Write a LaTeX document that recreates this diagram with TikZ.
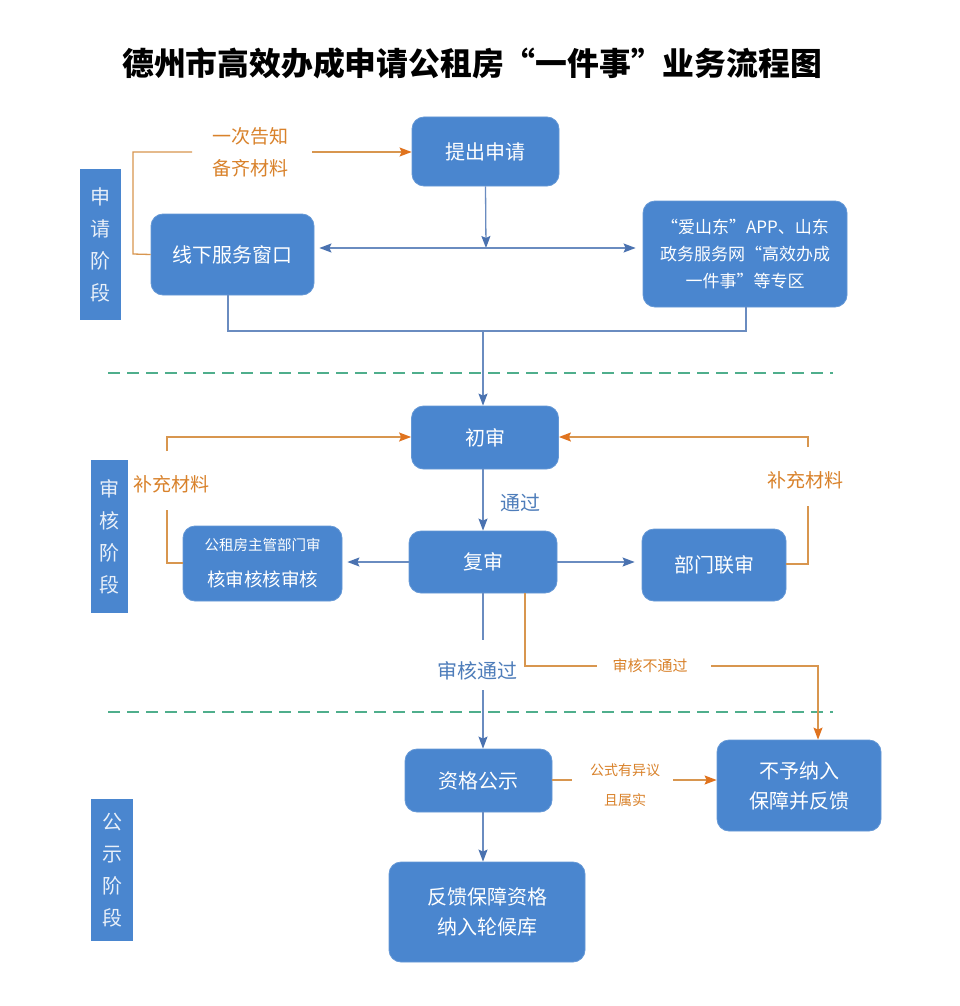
\documentclass[tikz,border=0pt]{standalone}
\usepackage{fontspec}
\setmainfont{Noto Sans CJK SC}
\usetikzlibrary{arrows.meta,calc}
\definecolor{boxblue}{HTML}{4A86CF}
\definecolor{lineblue}{HTML}{6A8CC0}
\definecolor{headblue}{HTML}{4A72B0}
\definecolor{lineorange}{HTML}{D8964F}
\definecolor{headorange}{HTML}{E0731E}
\definecolor{textorange}{HTML}{D9822B}
\definecolor{textblue}{HTML}{4E7DBA}
\definecolor{dashgreen}{HTML}{4FAE8C}
\begin{document}
\begin{tikzpicture}[x=1pt,y=-1pt,
  box/.style={fill=boxblue,draw=boxblue!85!white,line width=0.8pt,rounded corners=12pt,text=white,
    align=center,inner sep=0pt,font=\fontsize{20}{30}\selectfont},
  stagebox/.style={fill=boxblue,text=white!88!boxblue,align=center,inner sep=0pt,
    font=\fontsize{20}{32}\selectfont},
  bline/.style={draw=lineblue,line width=1.3pt},
  barrow/.style={bline,-{Stealth[length=12pt,width=9pt,inset=2pt,color=headblue]}},
  bdarrow/.style={bline,{Stealth[length=12pt,width=9pt,inset=2pt,color=headblue]}-{Stealth[length=12pt,width=9pt,inset=2pt,color=headblue]}},
  oline/.style={draw=lineorange,line width=1.3pt},
  oarrow/.style={oline,-{Stealth[length=12pt,width=9pt,inset=2pt,color=headorange]}},
  olabel/.style={text=textorange,align=center,inner sep=0pt},
  blabel/.style={text=textblue,align=center,inner sep=0pt,font=\fontsize{20}{24}\selectfont},
  dashline/.style={draw=dashgreen,line width=2pt,dash pattern=on 12pt off 7pt}
]
\useasboundingbox[fill=white] (0,0) rectangle (960,1006);

% title
\node[font=\fontsize{31.8}{36}\selectfont\bfseries] (title) at (472,63) {德州市高效办成申请公租房“一件事”业务流程图};

% stage labels
\node[stagebox,minimum width=41pt,minimum height=151pt] (s1) at (100.5,244.5) {申\\请\\阶\\段};
\node[stagebox,minimum width=37pt,minimum height=153pt] (s2) at (109.5,536.5) {审\\核\\阶\\段};
\node[stagebox,minimum width=42pt,minimum height=142pt] (s3) at (112,870) {公\\示\\阶\\段};

% boxes
\node[box,minimum width=147pt,minimum height=69pt] (tichu) at (485.5,151.5) {提出申请};
\node[box,minimum width=163pt,minimum height=81pt] (xianxia) at (232.5,254.5) {线下服务窗口};
\node[box,minimum width=204pt,minimum height=106pt,font=\fontsize{17}{27}\selectfont] (aisd) at (745,254) {“爱山东”APP、山东\\政务服务网“高效办成\\一件事”等专区};
\node[box,minimum width=147pt,minimum height=63pt] (chushen) at (485,437.5) {初审};
\node[box,minimum width=148pt,minimum height=62pt] (fushen) at (483,562) {复审};
\node[box,minimum width=159pt,minimum height=75pt] (gongzu) at (262.5,563.5) {{\fontsize{14.5}{18}\selectfont 公租房主管部门审}\\[6pt]{\fontsize{18.5}{20}\selectfont 核审核核审核}};
\node[box,minimum width=144pt,minimum height=72pt] (lianshen) at (714,565) {部门联审};
\node[box,minimum width=147pt,minimum height=63pt] (gongshi) at (478.5,780.5) {资格公示};
\node[box,minimum width=164pt,minimum height=91pt] (buyu) at (799,785.5) {不予纳入\\保障并反馈};
\node[box,minimum width=196pt,minimum height=100pt] (fankui) at (487,912) {反馈保障资格\\纳入轮候库};

% dashed separators
\coordinate (d1a) at (108,373); \coordinate (d1b) at (833,373);
\coordinate (d2a) at (108,712); \coordinate (d2b) at (833,712);
\draw[dashline] (d1a) -- (d1b);
\draw[dashline] (d2a) -- (d2b);

% labels
\node[olabel,font=\fontsize{19}{32}\selectfont] (l1) at (250,152) {一次告知\\备齐材料};
\node[olabel,font=\fontsize{19}{22}\selectfont] (l2) at (171,484) {补充材料};
\node[olabel,font=\fontsize{19}{22}\selectfont] (l3) at (805,480) {补充材料};
\node[olabel,font=\fontsize{15}{18}\selectfont] (l4) at (650,666) {审核不通过};
\node[olabel,font=\fontsize{14}{30}\selectfont] (l5) at (625,785) {公式有异议\\且属实};
\node[blabel] (l6) at (520,503) {通过};
\node[blabel] (l7) at (477,671) {审核通过};

% apply stage connectors
\coordinate (hmid) at (486,248);
\draw[barrow] (tichu.south) -- (hmid);
\draw[bdarrow,shorten <=5pt,shorten >=7pt] (xianxia.east |- hmid) -- (aisd.west |- hmid);
\coordinate (merge) at (483,331);
\draw[bline] (228,295) coordinate (xs) -- (xs |- merge) -- (merge);
\draw[bline] (746,307) coordinate (as) -- (as |- merge) -- (merge);
\draw[barrow] (merge) -- (merge |- chushen.north);

% top orange loop
\coordinate (o1a) at (133,254); \coordinate (o1b) at (133,152);
\coordinate (o1c) at (192,152); \coordinate (o1d) at (312,152);
\draw[oline] (xianxia.west) -- (o1a) -- (o1b) -- (o1c);
\draw[oarrow] (o1d) -- (tichu.west |- o1d);

% review stage
\draw[barrow] (chushen.south -| 483,0) -- (fushen.north);
\draw[barrow,shorten >=5pt] (fushen.west) -- (fushen.west -| gongzu.east);
\draw[barrow,shorten >=7pt] (fushen.east) -- (fushen.east -| lianshen.west);
\coordinate (p1) at (483,640); \coordinate (p2) at (483,690);
\draw[bline] (fushen.south) -- (p1);
\draw[barrow] (p2) -- (p2 |- gongshi.north);

% left supplement loop
\coordinate (lA) at (167,563); \coordinate (lB) at (167,510);
\coordinate (lC) at (167,451); \coordinate (lD) at (167,437);
\draw[oline] (gongzu.west |- lA) -- (lA) -- (lB);
\draw[oarrow] (lC) -- (lD) -- (chushen.west |- lD);

% right supplement loop
\coordinate (rA) at (808,564); \coordinate (rB) at (808,506);
\coordinate (rC) at (808,447); \coordinate (rD) at (808,437);
\draw[oline] (lianshen.east |- rA) -- (rA) -- (rB);
\draw[oarrow] (rC) -- (rD) -- (chushen.east |- rD);

% not passed
\coordinate (nA) at (525,593); \coordinate (nB) at (525,666);
\coordinate (nC) at (597,666); \coordinate (nD) at (711,666);
\coordinate (nE) at (818,666);
\draw[oline] (nA) -- (nB) -- (nC);
\draw[oarrow] (nD) -- (nE) -- (nE |- buyu.north);

% publicity stage
\coordinate (gA) at (572,780); \coordinate (gB) at (673,780);
\draw[oline] (gongshi.east |- gA) -- (gA);
\draw[oarrow] (gB) -- (buyu.west |- gB);
\coordinate (fA) at (483,812);
\draw[barrow] (fA) -- (fA |- fankui.north);
\end{tikzpicture}
\end{document}
